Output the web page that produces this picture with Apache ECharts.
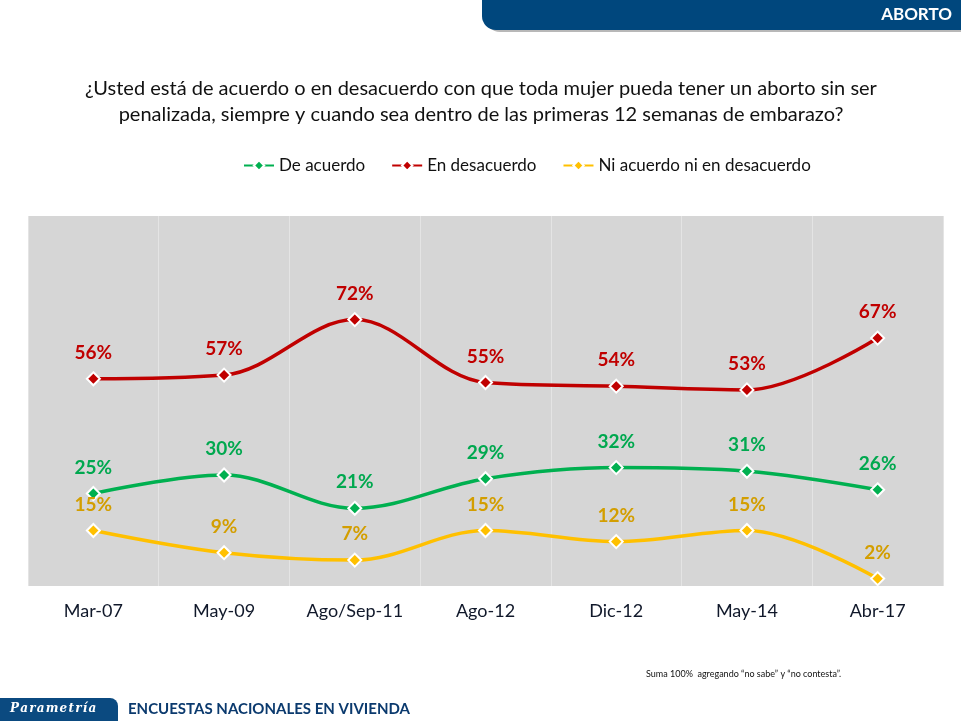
<!DOCTYPE html>
<html><head><meta charset="utf-8">
<script src="https://cdn.jsdelivr.net/npm/echarts@6/dist/echarts.min.js"></script>
<style>html,body{margin:0;padding:0;background:#fff}#c{width:961px;height:721px}</style>
</head><body><div id="c"></div>
<script>
const categories = ['Mar-07','May-09','Ago/Sep-11','Ago-12','Dic-12','May-14','Abr-17'];
const deAcuerdo = [25,30,21,29,32,31,26];
const enDesacuerdo = [56,57,72,55,54,53,67];
const niNi = [15,9,7,15,12,15,2];
const seriesNames = ['De acuerdo','En desacuerdo','Ni acuerdo ni en desacuerdo'];
const titleText = '¿Usted está de acuerdo o en desacuerdo con que toda mujer pueda tener un aborto sin ser\npenalizada, siempre y cuando sea dentro de las primeras 12 semanas de embarazo?';

const FONT = 'Lato, "Open Sans", sans-serif';
const chart = echarts.init(document.getElementById('c'), null, {renderer:'canvas'});
function mk(name, data, lineColor, labelColor){
  return {
    name, type:'line', data, smooth:0.35,
    symbol:'diamond', symbolSize:13,
    lineStyle:{color:lineColor, width:3.5},
    itemStyle:{color:lineColor, borderColor:'#fff', borderWidth:2},
    label:{show:true, position:'top', distance:9, formatter:'{c}%',
      color:labelColor, fontFamily:FONT, fontWeight:'bold', fontSize:19},
    z:3
  };
}
chart.setOption({
  backgroundColor:'#ffffff',
  animation:false,
  legend:{
    top:152, left:238, itemGap:26, itemWidth:30, itemHeight:13,
    textStyle:{fontFamily:FONT, fontSize:17, color:'#111'},
    data:seriesNames
  },
  grid:{left:28, right:18, top:216, bottom:135},
  xAxis:{
    type:'category', data:categories, boundaryGap:true,
    axisLine:{show:false}, axisTick:{show:false},
    axisLabel:{fontFamily:FONT, fontSize:18, color:'#10182a', margin:16},
    splitLine:{show:true, lineStyle:{color:'#e4e4e4', width:1}},
    splitArea:{show:true, areaStyle:{color:['#d6d6d6','#d6d6d6']}}
  },
  yAxis:{
    type:'value', min:0, max:100, interval:20,
    axisLine:{show:false}, axisTick:{show:false}, axisLabel:{show:false},
    splitLine:{show:false}
  },
  series:[
    mk(seriesNames[0], deAcuerdo, '#00B050', '#00A84F'),
    mk(seriesNames[1], enDesacuerdo, '#C00000', '#C00000'),
    mk(seriesNames[2], niNi, '#FFC000', '#D39E00')
  ],
  graphic:[
    {type:'text', x:481, y:76, style:{text:titleText, fill:'#111', font:'20px '+FONT, align:'center', lineHeight:26}},
    {type:'rect', shape:{x:486, y:2, width:475, height:30, r:[0,0,0,14]}, style:{fill:'#b8b8b8'}, z:1},
    {type:'rect', shape:{x:482, y:0, width:479, height:30, r:[0,0,0,14]}, style:{fill:'#00477D'}, z:2},
    {type:'text', right:9, top:6, style:{text:'ABORTO', fill:'#fff', font:'bold 17px '+FONT}, z:3},
    {type:'rect', shape:{x:0, y:698, width:118, height:23, r:[0,8,0,0]}, style:{fill:'#0B4A80'}},
    {type:'text', left:10, top:703, style:{text:'P\u200Aa\u200Ar\u200Aa\u200Am\u200Ae\u200At\u200Ar\u200Aí\u200Aa', fill:'#fff', font:'italic bold 12px "DejaVu Serif", serif'}},
    {type:'text', left:128, top:702, style:{text:'ENCUESTAS NACIONALES EN VIVIENDA', fill:'#0B3A6E', font:'bold 15px "Liberation Sans Narrow", '+FONT}},
    {type:'text', left:646, top:670, style:{text:'Suma 100%  agregando “no sabe” y “no contesta”.', fill:'#111', font:'9px '+FONT}}
  ]
});
</script></body></html>
